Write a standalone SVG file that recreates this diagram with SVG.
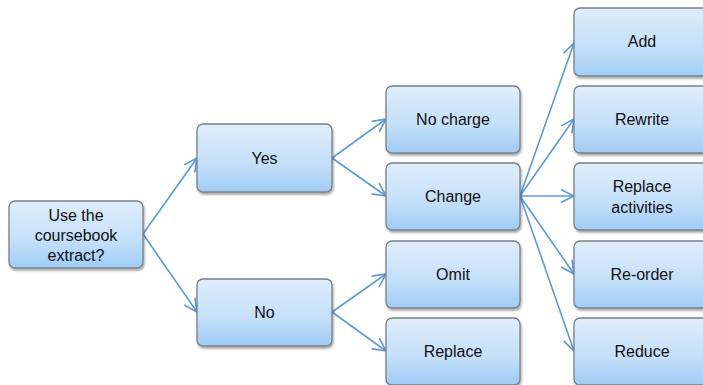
<svg xmlns="http://www.w3.org/2000/svg" width="703" height="385" viewBox="0 0 703 385">
<defs>
<linearGradient id="g" x1="0" y1="0" x2="0" y2="1">
<stop offset="0" stop-color="#dfedfc"/>
<stop offset="0.6" stop-color="#c3dff9"/>
<stop offset="1" stop-color="#9fccf6"/>
</linearGradient>
<filter id="sh" x="-10%" y="-10%" width="125%" height="130%">
<feDropShadow dx="1" dy="2" stdDeviation="1.2" flood-color="#000" flood-opacity="0.35"/>
</filter>
<marker id="ah" markerUnits="userSpaceOnUse" markerWidth="16" markerHeight="16" viewBox="0 0 16 16" refX="14" refY="8" orient="auto">
<path d="M1,1.5 L14,8 L1,14.5" fill="none" stroke="#5b9bd5" stroke-width="1.6"/>
</marker>
</defs>
<style>
.box{fill:url(#g);stroke:#7a7f86;stroke-width:1.3;filter:url(#sh)}
.t{font-family:"Liberation Sans",Arial,sans-serif;font-size:16px;fill:#111;text-anchor:middle}
.c{stroke:#5b9bd5;stroke-width:1.6;fill:none;marker-end:url(#ah)}
</style>
<g id="connectors">
<line class="c" x1="143" y1="234" x2="197" y2="158"/>
<line class="c" x1="143" y1="234" x2="197" y2="312"/>
<line class="c" x1="332" y1="158" x2="386" y2="119"/>
<line class="c" x1="332" y1="158" x2="386" y2="196"/>
<line class="c" x1="332" y1="312" x2="386" y2="274"/>
<line class="c" x1="332" y1="312" x2="386" y2="351"/>
<line class="c" x1="520" y1="196" x2="574" y2="43"/>
<line class="c" x1="520" y1="196" x2="574" y2="119"/>
<line class="c" x1="520" y1="196" x2="574" y2="196"/>
<line class="c" x1="520" y1="196" x2="574" y2="274"/>
<line class="c" x1="520" y1="196" x2="574" y2="351"/>
</g>
<g id="root"><rect class="box" x="9" y="201" width="134" height="67" rx="6"/><text class="t" x="76" y="221">Use the</text><text class="t" x="76" y="241">coursebook</text><text class="t" x="76" y="261">extract?</text></g>
<g id="yes"><rect class="box" x="197" y="124" width="135" height="68" rx="6"/><text class="t" x="264.5" y="163.5">Yes</text></g>
<g id="no"><rect class="box" x="197" y="279" width="135" height="67" rx="6"/><text class="t" x="264.5" y="318">No</text></g>
<g id="nocharge"><rect class="box" x="386" y="86" width="134" height="67" rx="6"/><text class="t" x="453" y="125">No charge</text></g>
<g id="change"><rect class="box" x="386" y="163" width="134" height="67" rx="6"/><text class="t" x="453" y="202">Change</text></g>
<g id="omit"><rect class="box" x="386" y="241" width="134" height="67" rx="6"/><text class="t" x="453" y="280">Omit</text></g>
<g id="replace"><rect class="box" x="386" y="318" width="134" height="67" rx="6"/><text class="t" x="453" y="357">Replace</text></g>
<g id="add"><rect class="box" x="574" y="8" width="136" height="68" rx="6"/><text class="t" x="642" y="47">Add</text></g>
<g id="rewrite"><rect class="box" x="574" y="86" width="136" height="67" rx="6"/><text class="t" x="642" y="125">Rewrite</text></g>
<g id="replaceactivities"><rect class="box" x="574" y="163" width="136" height="67" rx="6"/><text class="t" x="642" y="192">Replace</text><text class="t" x="642" y="213">activities</text></g>
<g id="reorder"><rect class="box" x="574" y="241" width="136" height="67" rx="6"/><text class="t" x="642" y="280">Re-order</text></g>
<g id="reduce"><rect class="box" x="574" y="318" width="136" height="67" rx="6"/><text class="t" x="642" y="357">Reduce</text></g>
</svg>
